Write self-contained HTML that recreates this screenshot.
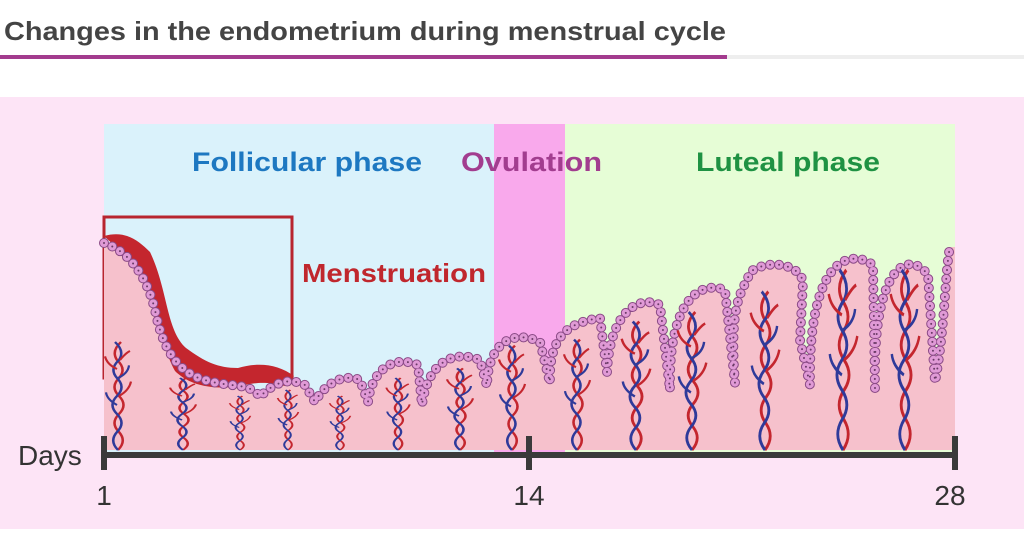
<!DOCTYPE html>
<html><head><style>
html,body{margin:0;padding:0;background:#fff}
body{width:1024px;height:529px;overflow:hidden;font-family:"Liberation Sans",sans-serif}
</style></head><body>
<svg width="1024" height="529" viewBox="0 0 1024 529" xmlns="http://www.w3.org/2000/svg">
<defs>
<g id="v">
<path d="M0,0 q9,-10 1,-20 q-9,-10 0,-20 q9,-10 0,-20 q-9,-10 0,-20 q8,-10 -2,-20 q-6,-10 4,-20" fill="none" stroke="#c4262e" stroke-width="2.5"/>
<path d="M0,0 q-9,-10 -1,-20 q9,-10 0,-20 q-9,-10 0,-20 q9,-10 0,-20 q-8,-10 2,-20 q6,-10 -4,-20" fill="none" stroke="#2f3a9a" stroke-width="2.5"/>
<path d="M1,-60 q10,-6 12,-16 M-1,-90 q-10,-5 -12,-14 M2,-100 q6,-8 10,-10" fill="none" stroke="#c4262e" stroke-width="2.2"/>
<path d="M-1,-50 q-10,-6 -11,-14 M0,-80 q10,-5 11,-14" fill="none" stroke="#2f3a9a" stroke-width="2.2"/>
</g>
<path id="s" d="M104,243 C125,250 145,270 155,310 C162,345 175,372 205,380 C230,388 250,382 260,397 C268,388 285,375 305,385 L315,402 C322,388 340,372 360,380 L368,402 C372,368 395,355 418,365 L422,405 C428,360 455,350 480,360 L487,386 C488,340 515,330 540,342 L550,383 C548,330 575,322 600,318 L607,372 C610,310 640,295 660,305 L670,390 C668,300 700,280 725,290 L735,383 C728,295 745,290 750,272 C770,258 800,265 803,282 L800,340 L810,385 C808,258 850,248 873,265 L875,388 C872,262 910,250 928,275 L935,382 C945,330 945,270 950,247"/>
</defs>
<text x="4" y="40" font-size="26" font-weight="bold" fill="#444" textLength="722" lengthAdjust="spacingAndGlyphs">Changes in the endometrium during menstrual cycle</text>
<rect x="0" y="55" width="1024" height="4" fill="#eee"/>
<rect x="0" y="55" width="727" height="4" fill="#a33b8e"/>
<rect x="0" y="97" width="1024" height="432" fill="#fde4f6"/>
<rect x="104" y="124" width="390" height="330" fill="#daf2fb"/>
<rect x="494" y="124" width="71" height="330" fill="#f9a9ec"/>
<rect x="565" y="124" width="390" height="330" fill="#e6fdd6"/>
<text x="192" y="171" font-size="27" font-weight="bold" fill="#1d78c1" textLength="230" lengthAdjust="spacingAndGlyphs">Follicular phase</text>
<text x="461" y="171" font-size="27" font-weight="bold" fill="#a23d8f" textLength="141" lengthAdjust="spacingAndGlyphs">Ovulation</text>
<text x="696" y="171" font-size="27" font-weight="bold" fill="#1f9243" textLength="184" lengthAdjust="spacingAndGlyphs">Luteal phase</text>
<rect x="104" y="217" width="188" height="161" fill="none" stroke="#b8252f" stroke-width="3"/>
<text x="302" y="282" font-size="26" font-weight="bold" fill="#c0272d" textLength="184" lengthAdjust="spacingAndGlyphs">Menstruation</text>
<path d="M104,243 C125,250 145,270 155,310 C162,345 175,372 205,380 C230,388 250,382 260,397 C268,388 285,375 305,385 L315,402 C322,388 340,372 360,380 L368,402 C372,368 395,355 418,365 L422,405 C428,360 455,350 480,360 L487,386 C488,340 515,330 540,342 L550,383 C548,330 575,322 600,318 L607,372 C610,310 640,295 660,305 L670,390 C668,300 700,280 725,290 L735,383 C728,295 745,290 750,272 C770,258 800,265 803,282 L800,340 L810,385 C808,258 850,248 873,265 L875,388 C872,262 910,250 928,275 L935,382 C945,330 945,270 950,247 L955,247 L955,450 L104,450 Z" fill="#f6c1cc"/>
<path d="M104,236 C125,230 138,240 150,252 C168,290 166,330 186,348 C205,362 218,368 238,368 C258,362 278,364 294,376 L285,386 C265,381 255,383 245,385 C215,391 190,386 175,371 C158,340 155,290 130,260 Z" fill="#c4262e"/>
<use href="#s" fill="none" stroke="#8a4a86" stroke-width="10" stroke-linecap="round" stroke-dasharray="0 9"/>
<use href="#s" fill="none" stroke="#e09ad6" stroke-width="8" stroke-linecap="round" stroke-dasharray="0 9"/>
<use href="#s" fill="none" stroke="#6a3a66" stroke-width="2" stroke-linecap="round" stroke-dasharray="0 9"/>
<use href="#v" transform="translate(118,450) scale(1,0.9)"/>
<use href="#v" transform="translate(183,450) scale(1,0.6)"/>
<use href="#v" transform="translate(240,450) scale(0.8,0.45)"/>
<use href="#v" transform="translate(288,450) scale(0.8,0.5)"/>
<use href="#v" transform="translate(340,450) scale(0.8,0.45)"/>
<use href="#v" transform="translate(398,450) scale(0.9,0.6)"/>
<use href="#v" transform="translate(460,450) scale(1,0.68)"/>
<use href="#v" transform="translate(512,450) scale(1,0.87)"/>
<use href="#v" transform="translate(577,450) scale(1,0.92)"/>
<use href="#v" transform="translate(636,450) scale(1.1,1.07)"/>
<use href="#v" transform="translate(692,450) scale(1.1,1.15)"/>
<use href="#v" transform="translate(765,450) scale(1.1,1.32)"/>
<use href="#v" transform="translate(843,450) scale(1.1,1.5)"/>
<use href="#v" transform="translate(905,450) scale(1.1,1.5)"/>
<rect x="104" y="452" width="851" height="6" fill="#3a3a3a"/>
<rect x="101" y="436" width="6" height="34" fill="#3a3a3a"/>
<rect x="526" y="436" width="6" height="34" fill="#3a3a3a"/>
<rect x="952" y="436" width="6" height="34" fill="#3a3a3a"/>
<text x="18" y="465" font-size="28" fill="#333">Days</text>
<text x="104" y="505" font-size="28" fill="#333" text-anchor="middle">1</text>
<text x="529" y="505" font-size="28" fill="#333" text-anchor="middle">14</text>
<text x="950" y="505" font-size="28" fill="#333" text-anchor="middle">28</text>
</svg>
</body></html>
